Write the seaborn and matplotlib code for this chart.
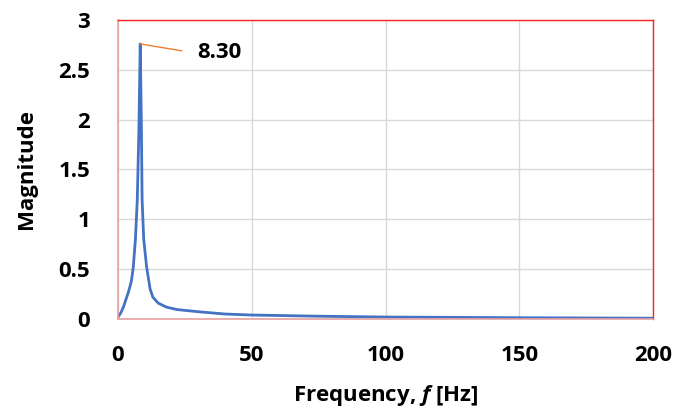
import matplotlib
matplotlib.use("Agg")
import matplotlib.pyplot as plt
import seaborn as sns
import pandas as pd

freq = [0, 1, 2, 3, 4, 5, 5.7, 6.5, 7.2, 7.8, 8.3, 8.7, 9.0, 9.6, 10.7, 12, 13, 15, 18, 22,
        30, 40, 50, 75, 100, 150, 200]
magnitude = [0.02, 0.06, 0.12, 0.2, 0.28, 0.38, 0.52, 0.8, 1.2, 1.9, 2.76, 2.0, 1.2, 0.8, 0.52,
             0.3, 0.22, 0.16, 0.12, 0.095, 0.073, 0.05, 0.04, 0.028, 0.02, 0.013, 0.008]
peak_label = "8.30"
peak_f = 8.3
peak_mag = 2.76
x_ticks = [0, 50, 100, 150, 200]
y_ticks = [0, 0.5, 1, 1.5, 2, 2.5, 3]
y_tick_labels = ["0", "0.5", "1", "1.5", "2", "2.5", "3"]

sns.set_theme(style="white")
plt.rcParams['font.family'] = ['Open Sans', 'DejaVu Sans']
plt.rcParams['mathtext.fontset'] = 'custom'
plt.rcParams['mathtext.it'] = 'Open Sans:italic:bold'
plt.rcParams['mathtext.bfit'] = 'Open Sans:italic:bold'
plt.rcParams['text.color'] = 'black'
plt.rcParams['axes.labelcolor'] = 'black'
plt.rcParams['xtick.color'] = 'black'
plt.rcParams['ytick.color'] = 'black'

df = pd.DataFrame({"f": freq, "m": magnitude})

fig = plt.figure(figsize=(6.76, 4.12), dpi=100)
ax = fig.add_axes([0.1746, 0.2257, 0.966 - 0.1746, 0.9515 - 0.2257])

ax.grid(True, color="#D9D9D9", linewidth=1)
ax.set_axisbelow(True)
sns.lineplot(data=df, x="f", y="m", ax=ax, color="#4472C4", linewidth=2)

FS = 16
ax.set_xlim(0, 200)
ax.set_ylim(0, 3)
ax.set_xticks(x_ticks)
ax.set_xticklabels([str(t) for t in x_ticks])
ax.set_yticks(y_ticks)
ax.set_yticklabels(y_tick_labels)
ax.tick_params(axis="y", length=0, labelsize=FS, pad=20)
ax.tick_params(axis="x", length=0, labelsize=FS, pad=19)
for lab in ax.get_xticklabels() + ax.get_yticklabels():
    lab.set_fontweight("bold")

ax.set_xlabel("Frequency, $\\mathit{f}$ [Hz]", fontsize=FS, fontweight="bold")
ax.xaxis.set_label_coords(0.5, -0.215)
ax.set_ylabel("Magnitude", fontsize=FS, fontweight="bold")
ax.yaxis.set_label_coords(-0.151, 0.5)

for side in ["top", "right"]:
    ax.spines[side].set_color("#FF2020")
    ax.spines[side].set_linewidth(1)
for side in ["left", "bottom"]:
    ax.spines[side].set_color("#E8A0A0")
    ax.spines[side].set_linewidth(1.2)

ax.plot([peak_f, 23.9], [peak_mag, 2.69], color="#ED7D31", linewidth=1)
ax.text(29.5, 2.67, peak_label, fontsize=FS, fontweight="bold", va="center", ha="left")

fig.savefig("out.png", dpi=100)
